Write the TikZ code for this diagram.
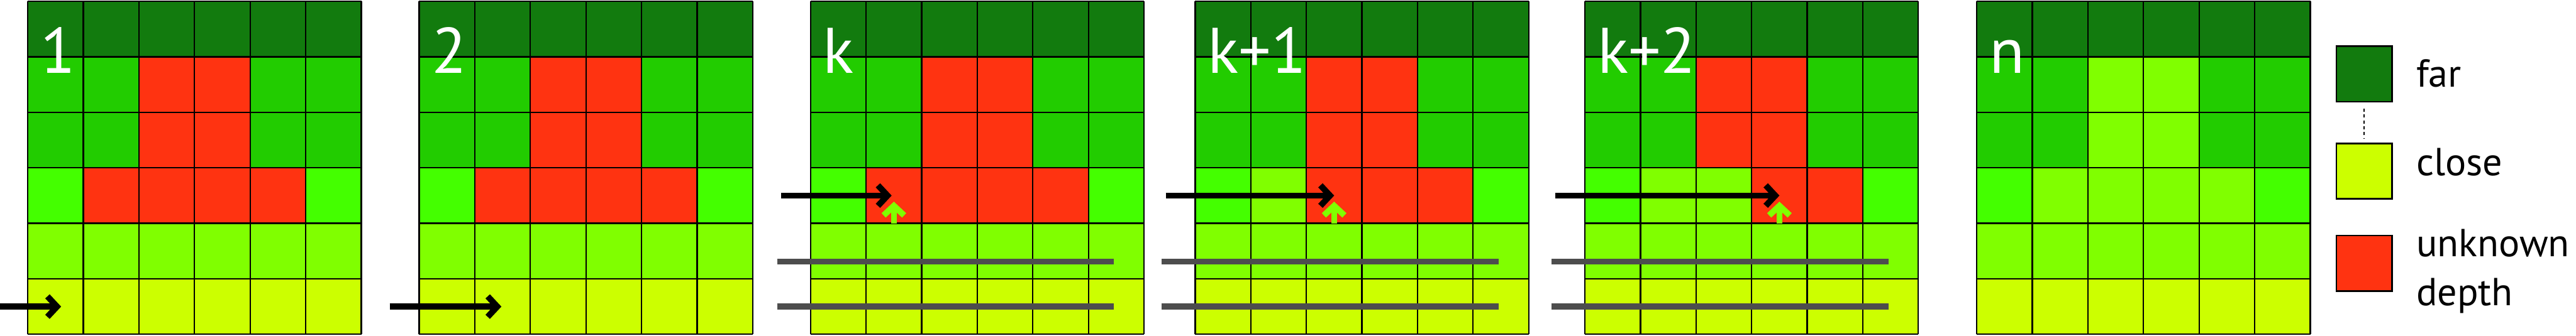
\documentclass[tikz,border=0pt]{standalone}
\usepackage{fontspec}
\setmainfont{PT Sans}
\usetikzlibrary{arrows.meta,positioning}

\definecolor{cD}{HTML}{127B0E}
\definecolor{cM}{HTML}{22CC00}
\definecolor{cB}{HTML}{44FF00}
\definecolor{cL}{HTML}{80FF00}
\definecolor{cY}{HTML}{CCFF00}
\definecolor{cR}{HTML}{FF3311}
\definecolor{scanline}{HTML}{4D4D4D}

\begin{document}
\begin{tikzpicture}[x=1cm,y=1cm,
  cellgrid/.style={line width=0.72pt},
  maplabel/.style={text=white,font=\fontsize{33}{40}\selectfont,anchor=base west,inner sep=0pt},
  scan/.style={line width=3.1pt,-{Straight Barb[length=4.9pt,width=10.5pt]}},
  known/.style={scan,color=cL},
  doneline/.style={line width=3.1pt,color=scanline},
  legendbox/.style={draw,line width=0.8pt,minimum size=1cm,inner sep=0pt},
  legendtext/.style={font=\fontsize{20}{25.2}\selectfont,anchor=base west,inner sep=0pt,align=left}]
  \useasboundingbox (0,-0.0285) rectangle (46.34,6.023);
  % depth maps, cells row by row from the top
  \foreach \x/\lab/\cells [count=\p] in {
    0.5/1/{D,D,D,D,D,D,M,M,R,R,M,M,M,M,R,R,M,M,B,R,R,R,R,B,L,L,L,L,L,L,Y,Y,Y,Y,Y,Y},
    7.54/2/{D,D,D,D,D,D,M,M,R,R,M,M,M,M,R,R,M,M,B,R,R,R,R,B,L,L,L,L,L,L,Y,Y,Y,Y,Y,Y},
    14.58/k/{D,D,D,D,D,D,M,M,R,R,M,M,M,M,R,R,M,M,B,R,R,R,R,B,L,L,L,L,L,L,Y,Y,Y,Y,Y,Y},
    21.5/k+1/{D,D,D,D,D,D,M,M,R,R,M,M,M,M,R,R,M,M,B,L,R,R,R,B,L,L,L,L,L,L,Y,Y,Y,Y,Y,Y},
    28.51/k+2/{D,D,D,D,D,D,M,M,R,R,M,M,M,M,R,R,M,M,B,L,L,R,R,B,L,L,L,L,L,L,Y,Y,Y,Y,Y,Y},
    35.56/n/{D,D,D,D,D,D,M,M,L,L,M,M,M,M,L,L,M,M,B,L,L,L,L,B,L,L,L,L,L,L,Y,Y,Y,Y,Y,Y}} {
    \begin{scope}[shift={(\x,0)}]
      \foreach \c [count=\i from 0] in \cells {
        \pgfmathtruncatemacro{\cx}{mod(\i,6)}
        \pgfmathtruncatemacro{\cy}{5-div(\i,6)}
        \fill[c\c] (\cx,\cy) rectangle ++(1,1);
      }
      \draw[cellgrid] (0,0) grid (6,6);
      \node[maplabel] (map\p) at (0.22,4.71) {\lab};
    \end{scope}
  }
  % rows already scanned
  \foreach \x in {14.58,21.5,28.51} {
    \draw[doneline] (\x-0.6,1.31) -- (\x+5.46,1.31);
    \draw[doneline] (\x-0.6,0.5) -- (\x+5.46,0.5);
  }
  % scan position
  \draw[scan] (0.5-0.53,0.5) -- (0.5+0.6,0.5);
  \draw[scan] (7.54-0.53,0.5) -- (7.54+1.48,0.5);
  \draw[scan] (14.58-0.53,2.5) -- (14.58+1.46,2.5);
  \draw[scan] (21.5-0.53,2.5) -- (21.5+2.5,2.5);
  \draw[scan] (28.51-0.53,2.5) -- (28.51+3.5,2.5);
  \draw[known] (14.58+1.5,1.99) -- (14.58+1.5,2.39);
  \draw[known] (21.5+2.5,1.99) -- (21.5+2.5,2.39);
  \draw[known] (28.51+3.5,1.99) -- (28.51+3.5,2.39);
  % legend
  \node[legendbox,fill=cD] (far) at (42.53,4.69) {};
  \node[legendbox,fill=cY] (close) at (42.53,2.94) {};
  \node[legendbox,fill=cR] (unknown) at (42.53,1.28) {};
  \draw[line width=0.6pt,dash pattern=on 1.6pt off 1.4pt] ([yshift=-0.11cm]far.south) -- ([yshift=0.08cm]close.north);
  \node[legendtext] (fartext) at (43.46,4.46) {far};
  \node[legendtext] (closetext) at (43.46,2.86) {close};
  \node[legendtext] (unknowntext) at (43.46,0.517) {unknown\\depth};
\end{tikzpicture}
\end{document}
